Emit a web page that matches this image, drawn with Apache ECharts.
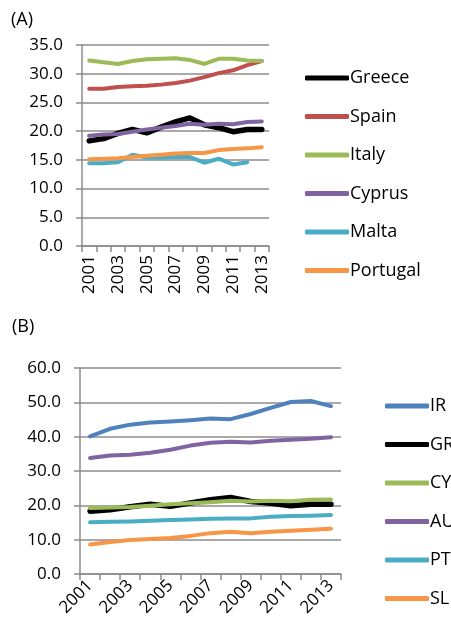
<!DOCTYPE html>
<html>
<head>
    <meta charset="UTF-8">
    <script src="https://cdn.jsdelivr.net/npm/echarts@6/dist/echarts.min.js"></script>
    <style>
        body { margin: 0; background: #fff; }
        #chart { width: 451px; height: 635px; }
    </style>
</head>
<body>
<div id="chart"></div>
<script type="text/javascript">
    // years on both x axes
    var years = ['2001', '2002', '2003', '2004', '2005', '2006', '2007', '2008', '2009', '2010', '2011', '2012', '2013'];

    // panel (A)
    var greece   = [18.3, 18.7, 19.6, 20.3, 19.7, 20.7, 21.6, 22.3, 21.1, 20.6, 19.9, 20.3, 20.3];
    var spain    = [27.4, 27.4, 27.7, 27.8, 27.9, 28.1, 28.4, 28.8, 29.4, 30.1, 30.6, 31.5, 32.2];
    var italy    = [32.3, 32.0, 31.7, 32.2, 32.5, 32.6, 32.7, 32.4, 31.7, 32.6, 32.6, 32.3, 32.2];
    var cyprus   = [19.2, 19.4, 19.5, 19.9, 20.3, 20.6, 20.9, 21.3, 21.1, 21.3, 21.2, 21.6, 21.7];
    var malta    = [14.4, 14.4, 14.6, 15.9, 15.4, 15.4, 15.5, 15.5, 14.5, 15.2, 14.2, 14.6, null];
    var portugal = [15.1, 15.2, 15.3, 15.5, 15.7, 15.9, 16.1, 16.2, 16.2, 16.7, 16.9, 17.0, 17.2];

    // panel (B)
    var ir = [40.1, 42.3, 43.5, 44.1, 44.4, 44.8, 45.3, 45.1, 46.6, 48.4, 50.1, 50.4, 48.9];
    var gr = [18.3, 18.7, 19.6, 20.3, 19.7, 20.7, 21.6, 22.3, 21.1, 20.6, 19.9, 20.3, 20.3];
    var cy = [19.2, 19.4, 19.5, 19.9, 20.3, 20.6, 20.9, 21.3, 21.1, 21.3, 21.2, 21.6, 21.7];
    var au = [33.8, 34.5, 34.7, 35.3, 36.2, 37.4, 38.2, 38.5, 38.3, 38.8, 39.1, 39.4, 39.8];
    var pt = [15.1, 15.2, 15.3, 15.5, 15.7, 15.9, 16.1, 16.2, 16.2, 16.7, 16.9, 17.0, 17.2];
    var sl = [8.6, 9.3, 9.9, 10.2, 10.5, 11.1, 11.9, 12.3, 11.9, 12.3, 12.6, 12.9, 13.2];

    var font = 'Open Sans';
    var axisGrey = '#8c8c8c';

    function mkLine(name, data, color, width, idx) {
        return {
            name: name,
            type: 'line',
            data: data,
            xAxisIndex: idx,
            yAxisIndex: idx,
            symbol: 'none',
            lineStyle: { color: color, width: width, cap: 'round', join: 'round' },
            itemStyle: { color: color }
        };
    }

    function xAx(idx, rotate, margin) {
        return {
            type: 'category',
            gridIndex: idx,
            data: years,
            boundaryGap: true,
            axisLine: { lineStyle: { color: axisGrey, width: 1.5 } },
            axisTick: { show: true, interval: 0, length: 6, lineStyle: { color: axisGrey, width: 1.5 } },
            axisLabel: { interval: 1, rotate: rotate, color: '#000', fontFamily: font, fontSize: 17, margin: margin }
        };
    }

    function yAx(idx, max, step) {
        return {
            type: 'value',
            gridIndex: idx,
            min: 0,
            max: max,
            interval: step,
            axisLine: { show: true, lineStyle: { color: axisGrey, width: 1.5 } },
            axisTick: { show: true, length: 6, lineStyle: { color: axisGrey, width: 1.5 } },
            splitLine: { lineStyle: { color: axisGrey, width: 1.5 } },
            axisLabel: {
                color: '#000', fontFamily: font, fontSize: 17, margin: 19,
                formatter: function (v) { return v.toFixed(1); }
            }
        };
    }

    function mkLegend(left, top, names) {
        return {
            orient: 'vertical', left: left, top: top,
            icon: 'roundRect',
            itemWidth: 44, itemHeight: 5, itemGap: 18.5,
            textStyle: { fontFamily: font, fontSize: 18, lineHeight: 20, color: '#000', padding: [0, 0, 0, -4] },
            data: names
        };
    }

    var myChart = echarts.init(document.getElementById('chart'));
    var option = {
        animation: false,
        backgroundColor: '#fff',
        title: [
            { text: '(A)', left: 6, top: 6, textStyle: { fontFamily: font, fontSize: 18, fontWeight: 'normal', color: '#000' } },
            { text: '(B)', left: 7, top: 313, textStyle: { fontFamily: font, fontSize: 18, fontWeight: 'normal', color: '#000' } }
        ],
        grid: [
            { left: 82, top: 45, width: 187, height: 201 },
            { left: 80, top: 368, width: 261, height: 206 }
        ],
        xAxis: [xAx(0, 90, 9), xAx(1, 45, 9)],
        yAxis: [yAx(0, 35, 5), yAx(1, 60, 10)],
        legend: [
            mkLegend(300, 63, ['Greece', 'Spain', 'Italy', 'Cyprus', 'Malta', 'Portugal']),
            mkLegend(380, 391, ['IR', 'GR', 'CY', 'AU', 'PT', 'SL'])
        ],
        series: [
            mkLine('Greece', greece, '#000000', 5.5, 0),
            mkLine('Spain', spain, '#C0504D', 4, 0),
            mkLine('Italy', italy, '#9BBB59', 4, 0),
            mkLine('Cyprus', cyprus, '#8064A2', 4, 0),
            mkLine('Malta', malta, '#4BACC6', 4, 0),
            mkLine('Portugal', portugal, '#F79646', 4, 0),
            mkLine('IR', ir, '#4F81BD', 4, 1),
            mkLine('GR', gr, '#000000', 5.5, 1),
            mkLine('CY', cy, '#9BBB59', 4, 1),
            mkLine('AU', au, '#8064A2', 4, 1),
            mkLine('PT', pt, '#4BACC6', 4, 1),
            mkLine('SL', sl, '#F79646', 4, 1)
        ]
    };
    myChart.setOption(option);
</script>
</body>
</html>
